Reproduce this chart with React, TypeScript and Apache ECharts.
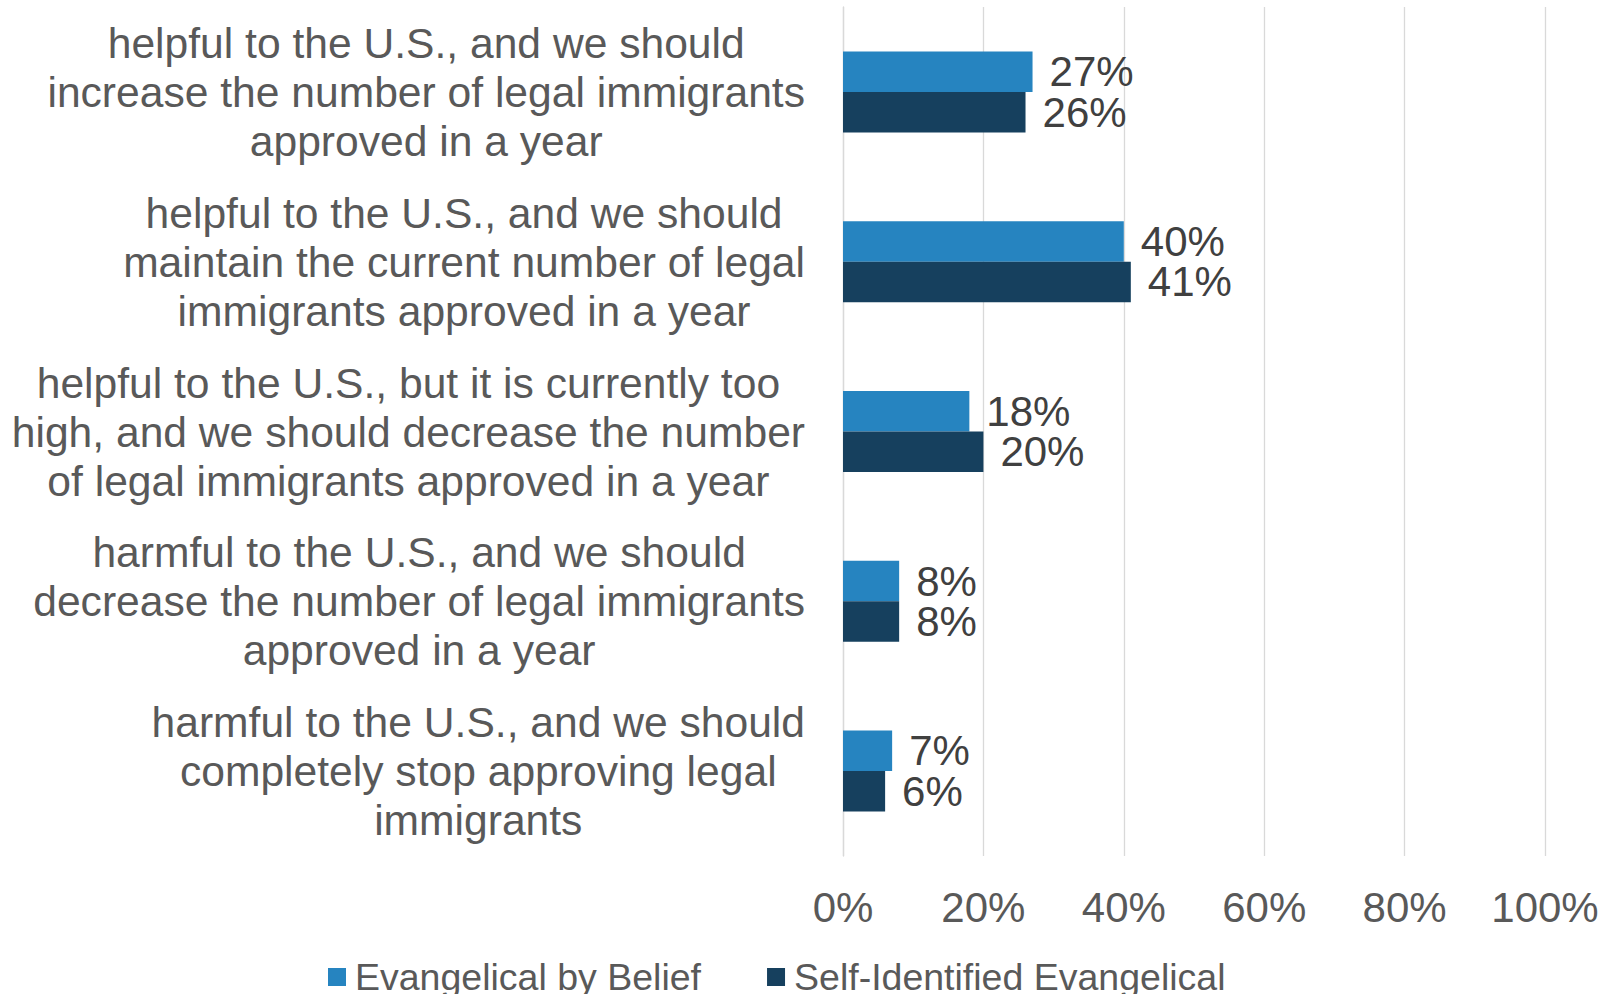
import React, { useEffect, useRef } from "react";
import * as echarts from "echarts";

const categories: string[] = [
  "helpful to the U.S., and we should\nincrease the number of legal immigrants\napproved in a year",
  "helpful to the U.S., and we should\nmaintain the current number of legal\nimmigrants approved in a year",
  "helpful to the U.S., but it is currently too\nhigh, and we should decrease the number\nof legal immigrants approved in a year",
  "harmful to the U.S., and we should\ndecrease the number of legal immigrants\napproved in a year",
  "harmful to the U.S., and we should\ncompletely stop approving legal\nimmigrants",
];
const seriesNames: string[] = ["Evangelical by Belief", "Self-Identified Evangelical"];
const beliefValues: number[] = [27, 40, 18, 8, 7];
const selfIdValues: number[] = [26, 41, 20, 8, 6];
const axisTicks: number[] = [0, 20, 40, 60, 80, 100];

const FONT = "Arial, 'Liberation Sans', sans-serif";
const COLORS = ["#2684C0", "#16405E"];

export default function App() {
  const ref = useRef<HTMLDivElement>(null);
  useEffect(() => {
    if (!ref.current) return;
    const chart = echarts.init(ref.current, undefined, { renderer: "svg" });
    const labelStyle = {
      show: true,
      position: "right" as const,
      distance: 17,
      formatter: "{c}%",
      fontSize: 42,
      color: "#404040",
      fontFamily: FONT,
    };
    chart.setOption({
      animation: false,
      backgroundColor: "#ffffff",
      grid: { left: 843, right: 70, top: 7, bottom: 138, containLabel: false },
      legend: {
        data: seriesNames,
        left: 323,
        top: 953,
        icon: "rect",
        itemWidth: 18,
        itemHeight: 18,
        itemGap: 66,
        textStyle: { fontSize: 37.5, color: "#595959", fontFamily: FONT, padding: [0, 0, 0, 4] },
      },
      xAxis: {
        type: "value",
        min: axisTicks[0],
        max: axisTicks[axisTicks.length - 1],
        interval: axisTicks[1] - axisTicks[0],
        axisLine: { show: false },
        axisTick: { show: false },
        axisLabel: {
          formatter: "{value}%",
          fontSize: 42,
          color: "#595959",
          fontFamily: FONT,
          margin: 30,
        },
        splitLine: { show: true, lineStyle: { color: "#D9D9D9", width: 1.3 } },
      },
      yAxis: {
        type: "category",
        inverse: true,
        data: categories,
        axisLine: { show: true, lineStyle: { color: "#D9D9D9", width: 1.3 } },
        axisTick: { show: false },
        axisLabel: {
          margin: 38,
          align: "right",
          formatter: (v: string) =>
            v
              .split("\n")
              .map((l) => `{c|${l}}`)
              .join("\n"),
          rich: {
            c: {
              align: "center",
              fontSize: 42.6,
              lineHeight: 49,
              color: "#595959",
              fontFamily: FONT,
            },
          },
        },
      },
      series: [
        {
          name: seriesNames[0],
          type: "bar",
          data: beliefValues,
          barWidth: 40.5,
          barGap: "0%",
          itemStyle: { color: COLORS[0] },
          label: labelStyle,
        },
        {
          name: seriesNames[1],
          type: "bar",
          data: selfIdValues,
          barWidth: 40.5,
          barGap: "0%",
          itemStyle: { color: COLORS[1] },
          label: labelStyle,
        },
      ],
    });
    return () => chart.dispose();
  }, []);
  return (
    <div
      ref={ref}
      style={{ position: "fixed", left: 0, top: 0, width: 1615, height: 994, background: "#fff" }}
    />
  );
}
